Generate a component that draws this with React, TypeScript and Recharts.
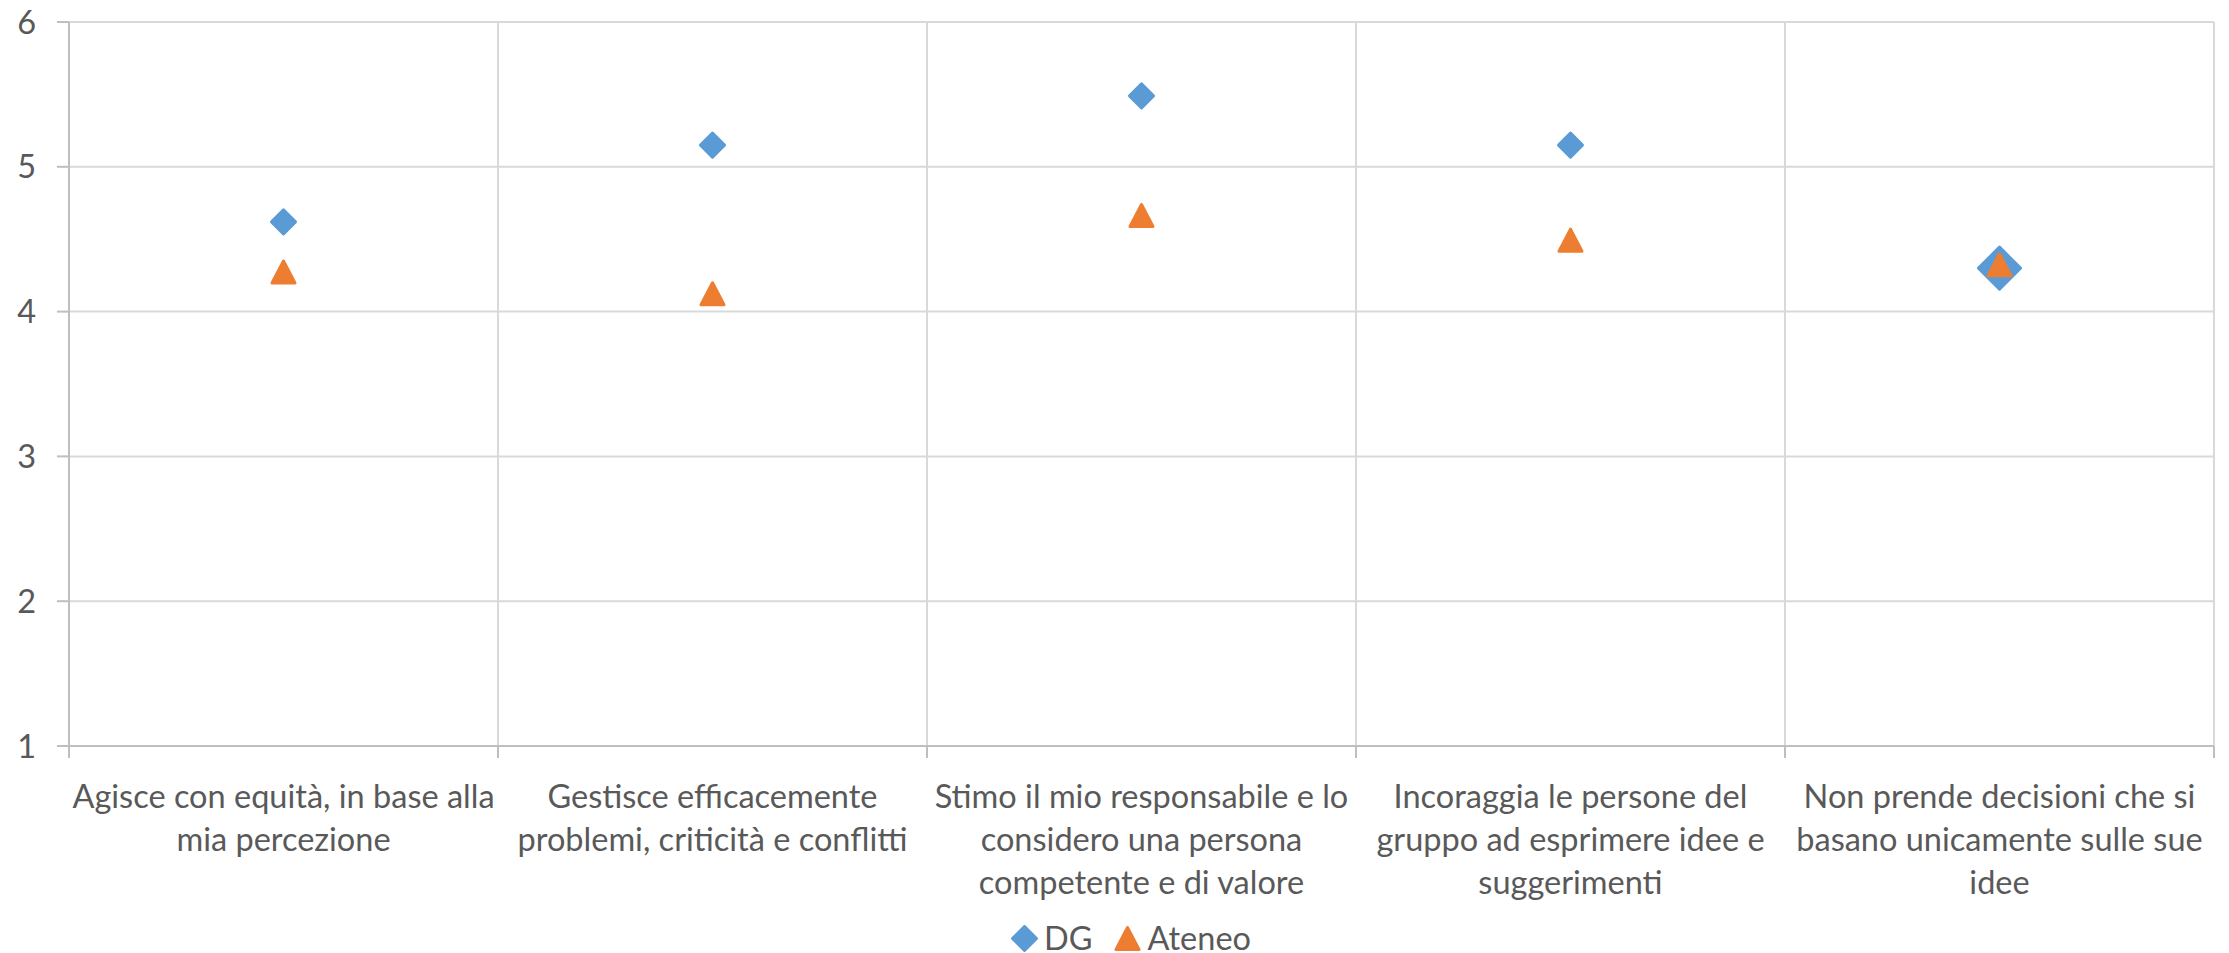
import React from 'react';
import { ScatterChart, Scatter, XAxis, YAxis, CartesianGrid, Legend } from 'recharts';

const categories = [
  'Agisce con equità, in base alla mia percezione',
  'Gestisce efficacemente problemi, criticità e conflitti',
  'Stimo il mio responsabile e lo considero una persona competente e di valore',
  'Incoraggia le persone del gruppo ad esprimere idee e suggerimenti',
  'Non prende decisioni che si basano unicamente sulle sue idee',
];

// wrapped the same way as in the original chart
const categoryLines = [
  ['Agisce con equità, in base alla', 'mia percezione'],
  ['Gestisce efficacemente', 'problemi, criticità e conflitti'],
  ['Stimo il mio responsabile e lo', 'considero una persona', 'competente e di valore'],
  ['Incoraggia le persone del', 'gruppo ad esprimere idee e', 'suggerimenti'],
  ['Non prende decisioni che si', 'basano unicamente sulle sue', 'idee'],
];

const dgValues = [4.62, 5.15, 5.49, 5.15, 4.3];
const ateneoValues = [4.27, 4.12, 4.66, 4.49, 4.32];
const yTicks = [1, 2, 3, 4, 5, 6];

const DG_COLOR = '#5b9bd5';
const ATENEO_COLOR = '#ed7d31';
const TEXT = '#595959';
const FONT_SIZE = 32.5;
const BIG_DG_INDEX = 4; // the last DG marker is drawn larger in the original

const dgData = categories.map((name, i) => ({ i, name, x: i + 0.5, y: dgValues[i] }));
const ateneoData = categories.map((name, i) => ({ i, name, x: i + 0.5, y: ateneoValues[i] }));

const boundaryTicks = Array.from({ length: categories.length + 1 }, (_, i) => i);
const labelTicks = categories.map((_, i) => i + 0.5);

const diamond = (cx: number, cy: number, r: number) =>
  `M${cx},${cy - r}L${cx + r},${cy}L${cx},${cy + r}L${cx - r},${cy}Z`;

const triangle = (cx: number, cy: number) =>
  `M${cx},${cy - 11.5}L${cx + 11.5},${cy + 10.5}L${cx - 11.5},${cy + 10.5}Z`;

function DiamondShape(props: any) {
  const { cx, cy, payload } = props;
  const r = payload && payload.i === BIG_DG_INDEX ? 21 : 12;
  return <path d={diamond(cx, cy, r)} fill={DG_COLOR} stroke={DG_COLOR} strokeWidth={3} strokeLinejoin="round" />;
}

function TriangleShape(props: any) {
  const { cx, cy } = props;
  return <path d={triangle(cx, cy)} fill={ATENEO_COLOR} stroke={ATENEO_COLOR} strokeWidth={3} strokeLinejoin="round" />;
}

function CategoryTick(props: any) {
  const { x, y, payload } = props;
  const lines = categoryLines[Math.floor(payload.value)] || [];
  return (
    <text x={x} y={y} textAnchor="middle" fill={TEXT} fontSize={FONT_SIZE}>
      {lines.map((line, k) => (
        <tspan key={k} x={x} dy={k === 0 ? 50 : 43}>{line}</tspan>
      ))}
    </text>
  );
}

function EmptyTick() {
  return <g />;
}

function LegendContent() {
  return (
    <div style={{ height: 40, boxSizing: 'border-box', paddingTop: 10, display: 'flex', justifyContent: 'center', alignItems: 'center', paddingLeft: 48, fontSize: FONT_SIZE, lineHeight: '28px', color: TEXT, fontFamily: 'Lato' }}>
      <svg width={27} height={27}>
        <path d={diamond(13.5, 13.5, 12)} fill={DG_COLOR} stroke={DG_COLOR} strokeWidth={3} strokeLinejoin="round" />
      </svg>
      <span style={{ marginLeft: 6, marginRight: 22 }}>DG</span>
      <svg width={27} height={27}>
        <path d={triangle(13.5, 14)} fill={ATENEO_COLOR} stroke={ATENEO_COLOR} strokeWidth={3} strokeLinejoin="round" />
      </svg>
      <span style={{ marginLeft: 6 }}>Ateneo</span>
    </div>
  );
}

export default function App() {
  return (
    <div style={{ position: 'absolute', left: 0, top: 0, width: 2229, height: 953, background: '#fff', fontFamily: 'Lato' }}>
      <ScatterChart width={2229} height={953} margin={{ top: 22, right: 15, left: 0, bottom: 0 }}>
        <CartesianGrid stroke="#d9d9d9" strokeWidth={2} />
        <XAxis
          type="number"
          dataKey="x"
          domain={[0, categories.length]}
          ticks={boundaryTicks}
          interval={0}
          height={12}
          tickSize={12}
          tick={EmptyTick}
          stroke="#bfbfbf"
          strokeWidth={2}
        />
        <XAxis
          xAxisId="labels"
          type="number"
          dataKey="x"
          domain={[0, categories.length]}
          ticks={labelTicks}
          interval={0}
          height={155}
          tickSize={0}
          tickMargin={0}
          tickLine={false}
          axisLine={false}
          tick={CategoryTick}
        />
        <YAxis
          type="number"
          dataKey="y"
          domain={[1, 6]}
          ticks={yTicks}
          interval={0}
          width={69}
          tickSize={12}
          tickMargin={21}
          stroke="#bfbfbf"
          strokeWidth={2}
          tick={{ fill: TEXT, fontSize: FONT_SIZE }}
        />
        <Legend verticalAlign="bottom" content={LegendContent} />
        <Scatter name="DG" data={dgData} fill={DG_COLOR} shape={DiamondShape} isAnimationActive={false} />
        <Scatter name="Ateneo" xAxisId="labels" data={ateneoData} fill={ATENEO_COLOR} shape={TriangleShape} isAnimationActive={false} />
      </ScatterChart>
    </div>
  );
}
